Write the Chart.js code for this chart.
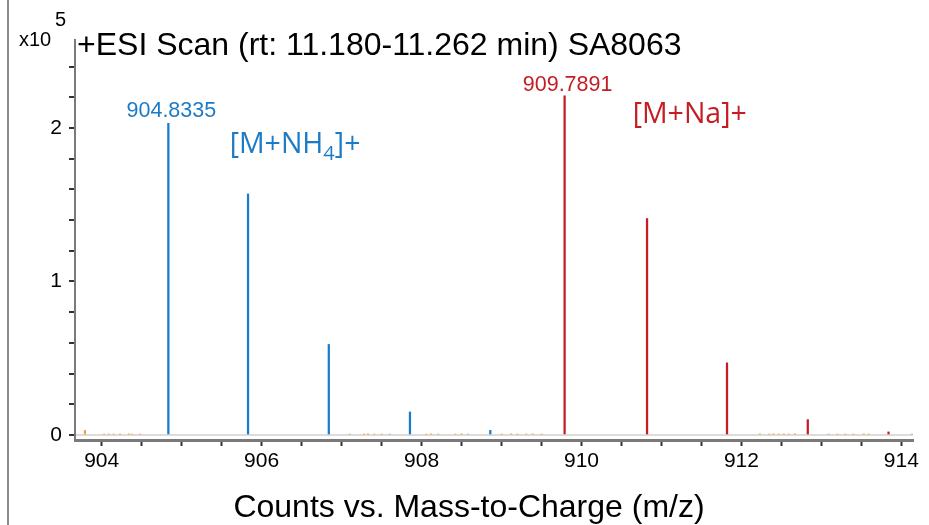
<!DOCTYPE html>
<html>
<head>
<meta charset="utf-8">
<script src="https://cdn.jsdelivr.net/npm/chart.js@4.4.1/dist/chart.umd.min.js"></script>
<style>
  html, body { margin: 0; padding: 0; background: #fff; }
  #wrap { width: 929px; height: 525px; }
</style>
</head>
<body>
<div id="wrap"><canvas id="spec"></canvas></div>
<script>
// abundances are in units of 10^5 counts
const nh4Mz = [904.8335, 905.83, 906.84, 907.855, 908.86];
const nh4Counts = [2.03, 1.57, 0.59, 0.15, 0.03];
const naMz = [909.7891, 910.82, 911.82, 912.83, 913.84];
const naCounts = [2.21, 1.41, 0.47, 0.10, 0.02];

// small baseline noise (orange)
const noiseMz = [903.79, 904.03, 904.09, 904.15, 904.23, 904.34, 904.38, 904.48,
  907.10, 907.28, 907.33, 907.41, 907.50, 907.60, 908.06, 908.12, 908.21, 908.42,
  908.50, 908.58, 909.00, 909.12, 909.20, 909.31, 909.39, 909.50, 912.23, 912.35,
  912.40, 912.47, 912.53, 912.59, 912.67, 913.09, 913.20, 913.30, 913.40, 913.53,
  913.59, 914.13];
const noiseCounts = [0.03, 0.006, 0.006, 0.006, 0.006, 0.008, 0.006, 0.006,
  0.006, 0.006, 0.008, 0.006, 0.006, 0.006, 0.006, 0.008, 0.006, 0.006,
  0.008, 0.006, 0.006, 0.008, 0.006, 0.006, 0.008, 0.006, 0.008, 0.006,
  0.008, 0.006, 0.008, 0.006, 0.008, 0.006, 0.006, 0.006, 0.006, 0.008,
  0.006, 0.006];

const xTickLabels = [904, 906, 908, 910, 912, 914];
const yTickLabels = [0, 1, 2];

// where the ion labels sit, in data units (m/z, counts)
const nh4LabelPos = [905.6, 1.84];
const naLabelPos = [910.64, 2.03];

const BLUE = '#1c7bc6';
const RED = '#c41e24';
const SANS = '"Liberation Sans", Arial, sans-serif';

const toPoints = (xs, ys) => xs.map((v, i) => ({ x: v, y: ys[i] }));

const decor = {
  id: 'decor',
  afterDraw(chart) {
    const { ctx, scales: { x, y } } = chart;
    ctx.save();

    // frame line on the far left
    ctx.strokeStyle = '#8c8c8c';
    ctx.lineWidth = 2;
    ctx.beginPath();
    ctx.moveTo(8, 0);
    ctx.lineTo(8, chart.height);
    ctx.stroke();

    ctx.textBaseline = 'alphabetic';
    ctx.textAlign = 'left';
    ctx.fillStyle = '#000';
    ctx.font = '32px ' + SANS;
    ctx.fillText('+ESI Scan (rt: 11.180-11.262 min) SA8063', 77, 55);

    ctx.font = '20px ' + SANS;
    ctx.fillText('x10', 19, 46);
    ctx.fillText('5', 55, 26);

    // x axis title (sits a bit left of the plot centre in the original)
    ctx.textAlign = 'center';
    ctx.font = '32px ' + SANS;
    ctx.fillText('Counts vs. Mass-to-Charge (m/z)', 469, 517);

    // peak m/z labels over the base peak of each cluster
    ctx.font = '21.5px ' + SANS;
    ctx.fillStyle = BLUE;
    ctx.fillText(nh4Mz[0].toFixed(4), x.getPixelForValue(nh4Mz[0]) + 3, y.getPixelForValue(nh4Counts[0]) - 6);
    ctx.fillStyle = RED;
    ctx.fillText(naMz[0].toFixed(4), x.getPixelForValue(naMz[0]) + 3, y.getPixelForValue(naCounts[0]) - 5);

    // ion annotations
    ctx.textAlign = 'left';
    const big = '28.5px "Open Sans", "Noto Sans", sans-serif';
    const sub = '20px "Open Sans", "Noto Sans", sans-serif';
    let px = x.getPixelForValue(nh4LabelPos[0]);
    const py = y.getPixelForValue(nh4LabelPos[1]);
    ctx.fillStyle = BLUE;
    ctx.font = big;
    ctx.fillText('[M+NH', px, py);
    px += ctx.measureText('[M+NH').width;
    ctx.font = sub;
    ctx.fillText('4', px, py + 7);
    px += ctx.measureText('4').width;
    ctx.font = big;
    ctx.fillText(']+', px, py);

    ctx.fillStyle = RED;
    ctx.fillText('[M+Na]+', x.getPixelForValue(naLabelPos[0]), y.getPixelForValue(naLabelPos[1]));

    ctx.restore();
  }
};

new Chart(document.getElementById('spec'), {
  type: 'bar',
  data: {
    datasets: [
      { data: toPoints(noiseMz, noiseCounts), backgroundColor: '#f2a03a', barThickness: 1.5 },
      { data: toPoints(nh4Mz, nh4Counts), backgroundColor: BLUE, barThickness: 1.6 },
      { data: toPoints(naMz, naCounts), backgroundColor: RED, barThickness: 1.6 }
    ]
  },
  options: {
    responsive: true,
    maintainAspectRatio: false,
    animation: false,
    grouped: false,
    layout: { padding: { top: 40, right: 16, left: 0, bottom: 0 } },
    plugins: { legend: { display: false }, tooltip: { enabled: false } },
    scales: {
      x: {
        type: 'linear',
        offset: false,
        min: 903.666,
        max: 914.146,
        afterFit(scale) { scale.height = 85; },
        border: { display: true, color: '#7a7a7a', width: 3 },
        grid: { offset: false, drawOnChartArea: false, drawTicks: true, tickLength: 6, tickColor: '#333', tickWidth: 2 },
        ticks: {
          stepSize: 0.5,
          includeBounds: false,
          autoSkip: false,
          maxRotation: 0,
          padding: 3,
          color: '#000',
          font: { family: SANS, size: 21 },
          callback: (v) => xTickLabels.includes(v) ? String(v) : ''
        }
      },
      y: {
        min: -0.0326,
        max: 2.573,
        afterFit(scale) { scale.width = 75; },
        border: { display: true, color: '#7a7a7a', width: 2 },
        grid: {
          drawOnChartArea: true,
          color: (c) => c.tick && c.tick.value === 0 ? '#dcdcdc' : 'rgba(0,0,0,0)',
          lineWidth: 2,
          tickLength: 6,
          tickColor: '#333',
          tickWidth: 2
        },
        ticks: {
          stepSize: 0.2,
          includeBounds: false,
          autoSkip: false,
          padding: 7,
          color: '#000',
          font: { family: SANS, size: 21 },
          callback: (v) => yTickLabels.some(t => Math.abs(t - v) < 1e-6) ? String(Math.round(v)) : ''
        }
      }
    }
  },
  plugins: [decor]
});
</script>
</body>
</html>
